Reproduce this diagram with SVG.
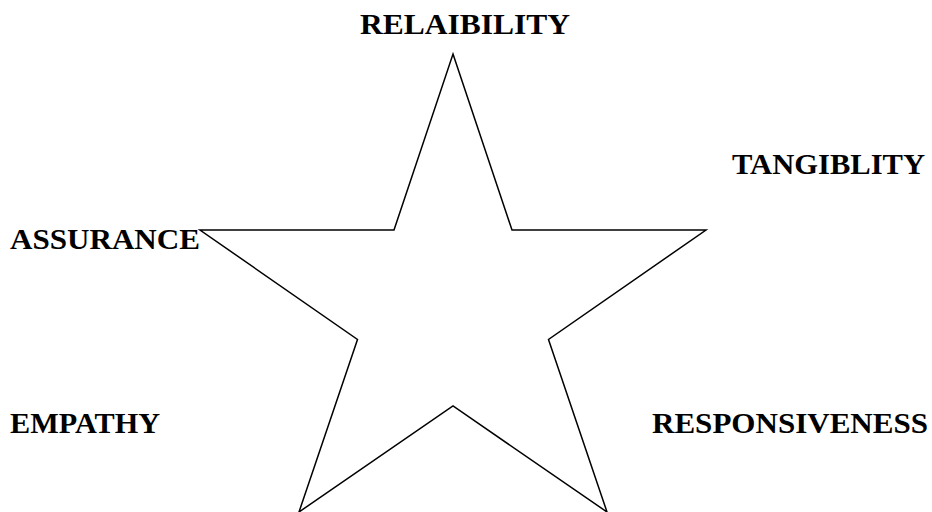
<svg xmlns="http://www.w3.org/2000/svg" width="932" height="512" viewBox="0 0 932 512">
<style>
.lbl{font-family:"Liberation Serif","Times New Roman",serif;font-weight:bold;font-size:29px;fill:#000}
.star{fill:#fff;stroke:#000;stroke-width:1.5;stroke-linejoin:miter}
</style>
<rect width="932" height="512" fill="#fff"/>
<g id="star">
<polygon class="star" points="453,54 512,230 706,230 548.5,339.5 607,512 453,406 299,512 357.5,339.5 200,230 394,230"/>
</g>
<g id="label-reliability"><text class="lbl" x="360" y="34" textLength="210" lengthAdjust="spacingAndGlyphs">RELAIBILITY</text></g>
<g id="label-tangiblity"><text class="lbl" x="732" y="174" textLength="193" lengthAdjust="spacingAndGlyphs">TANGIBLITY</text></g>
<g id="label-assurance"><text class="lbl" x="10" y="249" textLength="190" lengthAdjust="spacingAndGlyphs">ASSURANCE</text></g>
<g id="label-empathy"><text class="lbl" x="10" y="433" textLength="150" lengthAdjust="spacingAndGlyphs">EMPATHY</text></g>
<g id="label-responsiveness"><text class="lbl" x="652" y="433" textLength="276" lengthAdjust="spacingAndGlyphs">RESPONSIVENESS</text></g>
<g id="connectors"></g>
</svg>
